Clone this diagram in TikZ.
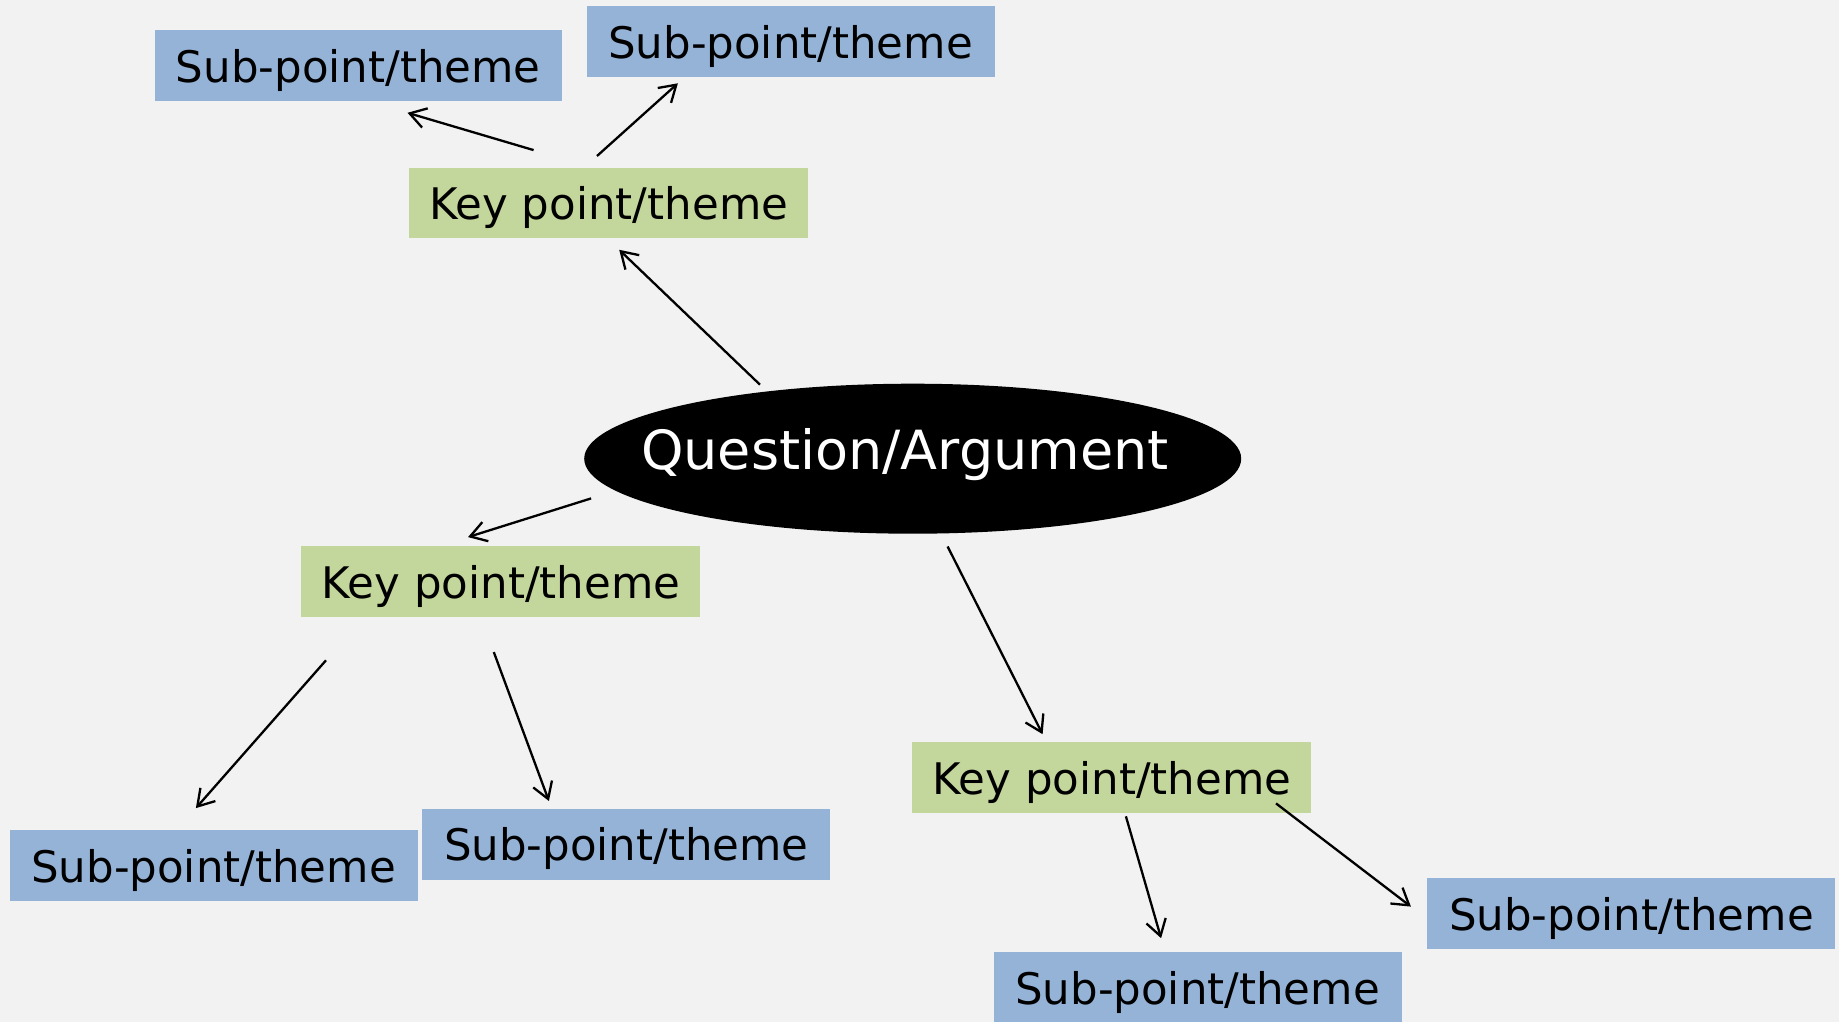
\documentclass[tikz,border=0pt]{standalone}
\usepackage{fontspec}
\setmainfont{DejaVu Sans}
\usetikzlibrary{shapes.geometric,arrows.meta}
\definecolor{bg}{HTML}{F2F2F2}
\definecolor{subblue}{HTML}{95B3D7}
\definecolor{keygreen}{HTML}{C3D69B}
\tikzset{
  box/.style={rectangle, inner sep=0pt, minimum height=70.5pt, text height=38pt, text depth=5pt,
    font=\fontsize{43.5}{50}\selectfont, text=black},
  subbox/.style={box, fill=subblue, minimum width=408pt},
  keybox/.style={box, fill=keygreen, minimum width=399pt},
  qell/.style={ellipse, fill=black, inner sep=0pt, minimum width=657pt, minimum height=150pt},
  qtext/.style={font=\fontsize{54}{60}\selectfont, text=white, inner sep=0pt, anchor=base},
  conn/.style={line width=2.3pt, -{Straight Barb[length=16pt,width=20pt,line width=2.3pt]}}
}
\begin{document}
\begin{tikzpicture}[x=1pt,y=-1pt]
\fill[bg] (0,0) rectangle (1839,1022);
\useasboundingbox (0,0) rectangle (1839,1022);
\clip (0,0) rectangle (1839,1022);

\node[subbox, minimum width=407pt] (sub1) at (358.3,65.7) {Sub-point/theme};
\node[subbox, minimum height=71.5pt] (sub2) at (790.5,41.7) {Sub-point/theme};
\node[keybox] (key1) at (608.7,203.0) {Key point/theme};
\node[qell] (q) at (912.7,458.7) {};
\node[qtext] (qt) at (905,469.3) {Question/Argument};
\node[keybox] (key2) at (500.8,581.7) {Key point/theme};
\node[keybox] (key3) at (1111.8,777.6) {Key point/theme};
\node[subbox] (sub3) at (213.5,865.5) {Sub-point/theme};
\node[subbox] (sub4) at (626.3,844.4) {Sub-point/theme};
\node[subbox] (sub5) at (1631.4,913.6) {Sub-point/theme};
\node[subbox] (sub6) at (1197.5,987.5) {Sub-point/theme};

\coordinate (a1s) at (533.6,150.1); \coordinate (a1e) at (407.5,112.8);
\coordinate (a2s) at (597,156);     \coordinate (a2e) at (677.9,83.3);
\coordinate (a3s) at (760,384.7);   \coordinate (a3e) at (619.2,249.8);
\coordinate (a4s) at (591.1,498.4); \coordinate (a4e) at (468,537.1);
\coordinate (a5s) at (947.6,546.5); \coordinate (a5e) at (1042.6,734.2);
\coordinate (a6s) at (326,660.3);   \coordinate (a6e) at (195.9,808.1);
\coordinate (a7s) at (493.8,652.1); \coordinate (a7e) at (548.9,801);
\coordinate (a8s) at (1125.9,816.3);\coordinate (a8e) at (1161.1,938.2);
\coordinate (a9s) at (1276,803.4);  \coordinate (a9e) at (1410.9,906.6);

\draw[conn] (a1s) -- (a1e);
\draw[conn] (a2s) -- (a2e);
\draw[conn] (a3s) -- (a3e);
\draw[conn] (a4s) -- (a4e);
\draw[conn] (a5s) -- (a5e);
\draw[conn] (a6s) -- (a6e);
\draw[conn] (a7s) -- (a7e);
\draw[conn] (a8s) -- (a8e);
\draw[conn] (a9s) -- (a9e);
\end{tikzpicture}
\end{document}
